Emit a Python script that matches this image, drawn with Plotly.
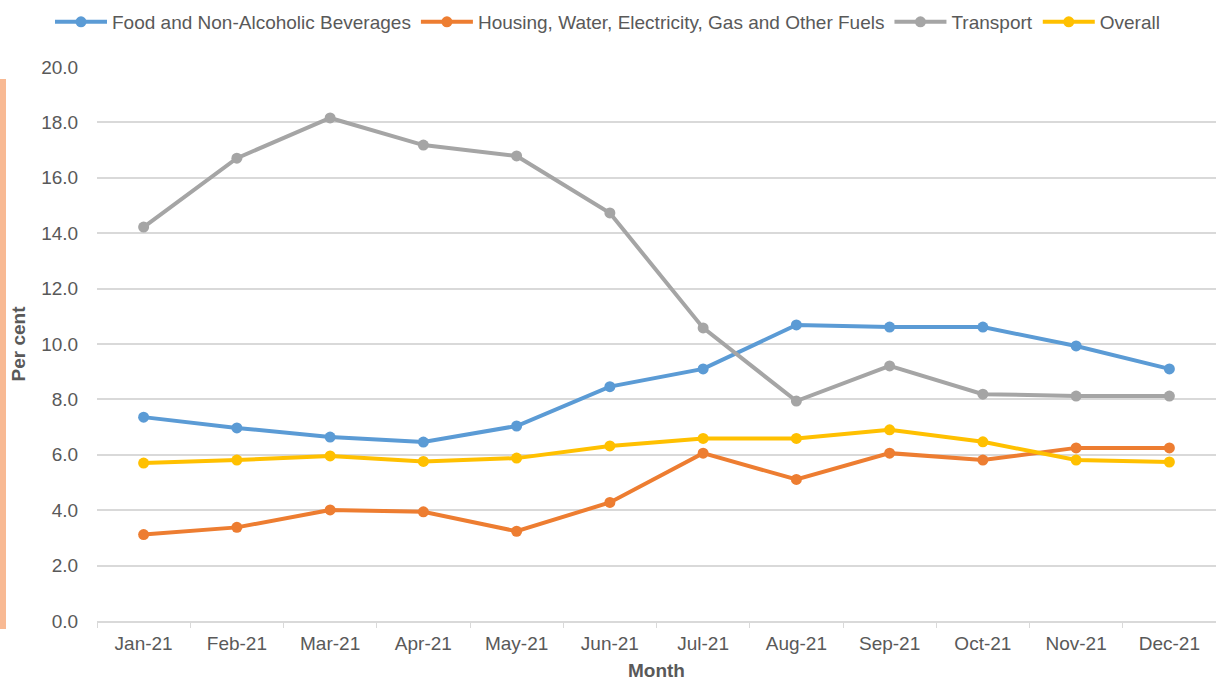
import plotly.graph_objects as go

months = ["Jan-21", "Feb-21", "Mar-21", "Apr-21", "May-21", "Jun-21",
          "Jul-21", "Aug-21", "Sep-21", "Oct-21", "Nov-21", "Dec-21"]

food = [7.36, 6.97, 6.64, 6.46, 7.04, 8.46, 9.10, 10.69, 10.61, 10.61, 9.93, 9.10]
housing = [3.12, 3.38, 4.01, 3.94, 3.24, 4.28, 6.06, 5.11, 6.06, 5.81, 6.25, 6.25]
transport = [14.22, 16.71, 18.16, 17.18, 16.79, 14.73, 10.58, 7.94, 9.21, 8.19, 8.12, 8.12]
overall = [5.70, 5.81, 5.96, 5.76, 5.88, 6.32, 6.59, 6.59, 6.90, 6.47, 5.81, 5.74]

series_names = ["Food and Non-Alcoholic Beverages",
                "Housing, Water, Electricity, Gas and Other Fuels",
                "Transport", "Overall"]
series_colors = ["#5B9BD5", "#ED7D31", "#A5A5A5", "#FFC000"]
series_values = [food, housing, transport, overall]

y_ticks = [0, 2, 4, 6, 8, 10, 12, 14, 16, 18, 20]

FONT = "Liberation Sans, Arial, sans-serif"
TXT = "#595959"
FS = 19

fig = go.Figure()
for name, color, vals in zip(series_names, series_colors, series_values):
    fig.add_trace(go.Scatter(
        x=months, y=vals, name=name, mode="lines+markers",
        line=dict(color=color, width=4),
        marker=dict(color=color, size=11),
    ))

W, H = 1216, 681
L, R, T, B = 97, 0, 67, 60
pw, ph = W - L - R, H - T - B

fig.update_layout(
    width=W, height=H,
    margin=dict(l=L, r=R, t=T, b=B),
    paper_bgcolor="white", plot_bgcolor="white",
    font=dict(family=FONT, size=FS, color=TXT),
    showlegend=True,
    legend=dict(
        orientation="h",
        x=(50 - L) / pw, xanchor="left",
        y=1 + (T - 22) / ph, yanchor="middle",
        font=dict(family=FONT, size=FS, color=TXT),
        itemwidth=52, tracegroupgap=0,
        bgcolor="rgba(0,0,0,0)",
    ),
    xaxis=dict(
        type="category",
        range=[-0.5, len(months) - 0.5],
        showgrid=False,
        showline=True, linecolor="#D9D9D9", linewidth=1.5,
        ticks="outside", tickson="boundaries", ticklen=5, tickcolor="#D9D9D9",
        ticklabelstandoff=4,
        tickfont=dict(family=FONT, size=FS, color=TXT),
        title=dict(text="<b>Month</b>", font=dict(family=FONT, size=FS, color=TXT), standoff=11),
    ),
    yaxis=dict(
        range=[0, 20],
        tickvals=y_ticks,
        ticktext=[f"{v:.1f}" for v in y_ticks],
        showgrid=True, gridcolor="#D9D9D9", gridwidth=1.5,
        zeroline=False, showline=False,
        ticks="outside", ticklen=14, tickcolor="rgba(0,0,0,0)",
        tickfont=dict(family=FONT, size=FS, color=TXT),
        title=dict(text="<b>Per cent</b>", font=dict(family=FONT, size=FS, color=TXT), standoff=10),
    ),
)

# decorative orange band on the left edge
fig.add_shape(
    type="rect", xref="paper", yref="paper",
    x0=(0 - L) / pw, x1=(6 - L) / pw,
    y0=(H - B - 629) / ph, y1=(H - B - 79) / ph,
    fillcolor="#F8B993", line=dict(width=0), layer="below",
)

fig.write_html(
    "out.html",
    config={"displayModeBar": False},
    post_script="document.body.style.margin='0';document.body.style.overflow='hidden';",
)
